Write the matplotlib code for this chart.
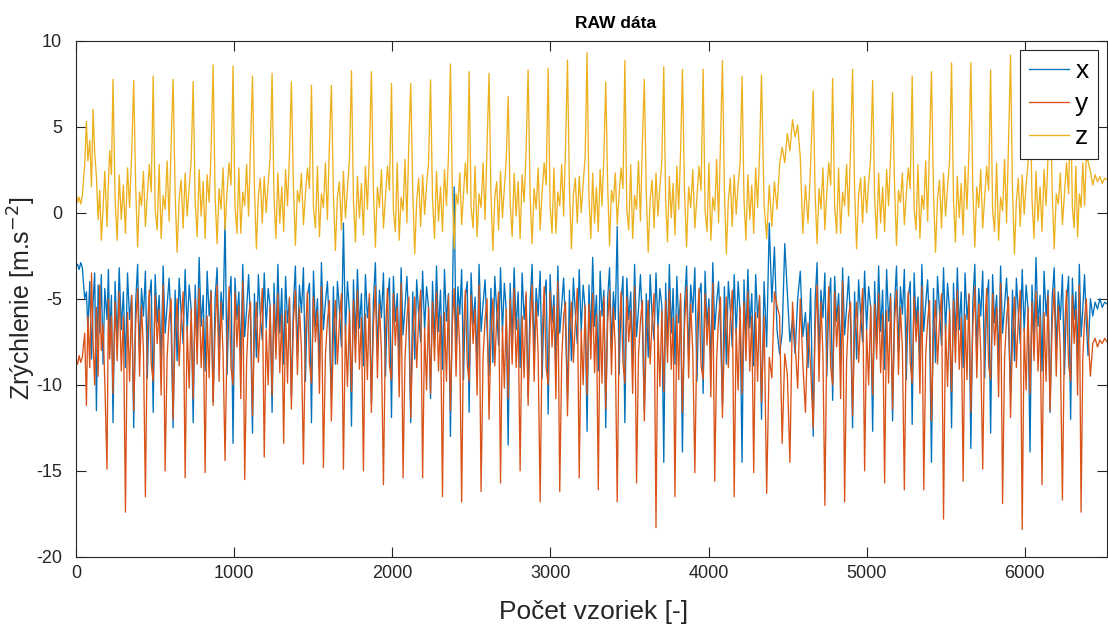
import matplotlib
matplotlib.use("Agg")
import matplotlib.pyplot as plt
import numpy as np

plt.rcParams['font.family'] = ['Liberation Sans', 'DejaVu Sans']
plt.rcParams['axes.unicode_minus'] = False

# sample index of each z peak (start of each cycle), last one = start of the quiet tail
peaks = [234, 365, 488, 614, 741, 867, 993, 1116, 1240, 1362, 1489, 1615, 1742, 1868,
         1995, 2117, 2242, 2368, 2486, 2612, 2733, 2859, 2986, 3108, 3232, 3350, 3471,
         3594, 3717, 3835, 3966, 4088, 4212, 4335, 4662, 4785, 4911, 5038, 5164, 5288,
         5410, 5537, 5659, 5784, 5910, 6033, 6160, 6290, 6400]

# lead-in before the first peak
lead_idx = [0, 10, 20, 30, 40, 55, 66, 75, 87, 98, 108, 118, 129, 140, 150, 160, 171, 182, 196, 205, 213, 224]
x_lead = [-3.1, -3.0, -3.3, -2.9, -3.2, -5.0, -4.6, -6.8, -4.0, -8.5, -5.2, -3.5, -11.5, -4.2, -7.0, -3.6, -8.8, -4.4, -6.2, -3.3, -7.4, -4.8]
y_lead = [-8.5, -8.8, -8.3, -8.7, -8.4, -7.0, -11.2, -6.0, -9.0, -3.5, -7.5, -10.0, -5.5, -9.5, -4.2, -8.0, -6.5, -9.8, -14.9, -5.0, -8.5, -6.0]
z_lead = [1.2, 0.6, 0.9, 0.5, 1.0, 2.8, 5.3, 3.0, 4.2, 1.5, 6.0, 3.5, 2.1, -0.4, 1.3, -1.6, 0.2, 2.4, -0.8, 1.8, 3.6, 2.2]

# quiet tail at the end of the recording
tail_idx = [6400, 6415, 6430, 6445, 6460, 6475, 6490, 6505, 6520]
x_tail = [-8.3, -5.0, -6.0, -5.2, -5.6, -5.0, -5.5, -5.2, -5.3]
y_tail = [-7.0, -9.5, -7.6, -7.3, -7.8, -7.4, -7.6, -7.3, -7.5]
z_tail = [3.0, 2.4, 1.6, 2.2, 1.8, 2.1, 1.7, 2.0, 1.9]

# values within each cycle (evenly spread between two peaks)
z_rows = [
    [7.75, 0.8, -1.6, 2.2, -0.4, 1.6, -1.2, 2.6, 0.3, 3.4],
    [7.67, 1.5, -2.0, 1.2, 0.4, 2.4, -0.8, 1.0, 2.8, 1.2],
    [7.94, 0.2, -1.0, 2.8, -1.5, 1.0, 0.2, 3.0, -0.5, 4.0],
    [7.75, 1.2, -2.3, 0.8, 1.9, -0.9, 2.3, -0.2, 1.5, 3.0],
    [7.62, 0.6, -1.4, 2.5, -0.2, 1.8, -1.5, 2.2, 0.6, 3.6],
    [8.58, 1.0, -1.8, 1.4, 0.2, 2.6, -1.0, 1.2, 2.9, 1.6],
    [8.52, 0.4, -1.2, 2.6, -1.2, 1.2, 0.4, 2.8, -0.2, 3.8],
    [7.94, 1.4, -2.1, 1.0, 2.0, -0.6, 2.1, 0.0, 1.7, 3.2],
    [8.10, 0.9, -1.5, 2.3, -0.6, 1.5, -1.1, 2.5, 0.4, 3.3],
    [7.60, 1.6, -1.9, 1.3, 0.6, 2.3, -0.7, 1.1, 2.6, 1.4],
    [7.40, 0.3, -0.9, 2.7, -1.4, 1.1, 0.3, 2.9, -0.4, 3.9],
    [7.40, 1.1, -2.2, 0.9, 1.8, -1.0, 2.4, -0.3, 1.4, 3.1],
    [8.25, 0.7, -1.7, 2.1, -0.3, 1.7, -1.3, 2.7, 0.2, 3.5],
    [8.19, 1.3, -2.0, 1.5, 0.3, 2.5, -0.9, 0.9, 2.7, 1.3],
    [7.51, 0.1, -1.1, 2.9, -1.6, 0.9, 0.1, 3.1, -0.6, 4.1],
    [7.51, 1.3, -2.4, 0.7, 2.0, -0.8, 2.2, -0.1, 1.6, 2.9],
    [7.71, 0.8, -1.5, 2.4, -0.5, 1.5, -1.1, 2.5, 0.4, 3.3],
    [8.64, 1.4, -2.1, 1.1, 0.5, 2.3, -0.7, 1.1, 2.9, 1.1],
    [8.19, 0.3, -0.9, 2.7, -1.4, 1.1, 0.3, 2.9, -0.4, 3.9],
    [8.10, 1.1, -2.2, 0.9, 1.8, -1.0, 2.4, -0.3, 1.4, 3.1],
    [6.74, 0.6, -1.4, 2.3, -0.2, 1.8, -1.5, 2.2, 0.6, 3.6],
    [8.29, 1.0, -1.8, 1.4, 0.2, 2.6, -1.0, 1.2, 2.9, 1.6],
    [8.39, 0.4, -1.2, 2.6, -1.2, 1.2, 0.4, 2.8, -0.2, 3.8],
    [8.87, 1.4, -2.1, 1.0, 2.0, -0.6, 2.1, 0.0, 1.7, 3.2],
    [9.29, 0.9, -1.5, 2.3, -0.6, 1.5, -1.1, 2.5, 0.4, 3.3],
    [7.60, 1.6, -1.9, 1.3, 0.6, 2.3, -0.7, 1.1, 2.6, 1.4],
    [8.83, 0.2, -1.0, 2.8, -1.5, 1.0, 0.2, 3.0, -0.5, 4.0],
    [7.75, 1.2, -2.3, 0.8, 1.9, -0.9, 2.3, -0.2, 1.5, 3.0],
    [8.48, 0.7, -1.7, 2.1, -0.3, 1.7, -1.3, 2.7, 0.2, 3.5],
    [8.33, 1.3, -2.0, 1.5, 0.3, 2.5, -0.9, 0.9, 2.7, 1.3],
    [8.33, 0.1, -1.1, 2.9, -1.6, 0.9, 0.1, 3.1, -0.6, 4.1],
    [8.83, 1.3, -2.4, 0.7, 2.0, -0.8, 2.2, -0.1, 1.6, 2.9],
    [7.90, 0.8, -1.6, 2.2, -0.4, 1.6, -1.2, 2.6, 0.3, 3.4],
    [8.00, 0.5, -1.5, 1.6, -0.8, 1.8, 0.2, 2.8, 3.8, 2.9, 4.6, 3.6, 5.4, 4.4, 5.1, 3.2, -1.2, 1.6, -0.6, 2.8],
    [7.08, 1.0, -1.8, 1.4, 0.2, 2.6, -1.0, 1.2, 2.9, 1.6],
    [7.80, 0.4, -1.2, 2.6, -1.2, 1.2, 0.4, 2.8, -0.2, 3.8],
    [8.33, 1.4, -2.1, 1.0, 2.0, -0.6, 2.1, 0.0, 1.7, 3.2],
    [7.67, 0.9, -1.5, 2.3, -0.6, 1.5, -1.1, 2.5, 0.4, 3.3],
    [6.97, 1.6, -1.9, 1.3, 0.6, 2.3, -0.7, 1.1, 2.6, 1.4],
    [7.94, 0.2, -1.0, 2.8, -1.5, 1.0, 0.2, 3.0, -0.5, 4.0],
    [8.19, 1.2, -2.3, 0.8, 1.9, -0.9, 2.3, -0.2, 1.5, 3.0],
    [8.71, 0.7, -1.7, 2.1, -0.3, 1.7, -1.3, 2.7, 0.2, 3.5],
    [8.71, 1.3, -2.0, 1.5, 0.3, 2.5, -0.9, 0.9, 2.7, 1.3],
    [8.29, 0.1, -1.1, 2.9, -1.6, 0.9, 0.1, 3.1, -0.6, 4.1],
    [9.16, 1.3, -2.4, 0.7, 2.0, -0.8, 2.2, -0.1, 1.6, 2.9],
    [7.60, 0.8, -1.5, 2.4, -0.5, 1.5, -1.1, 2.5, 0.4, 3.3],
    [7.20, 1.4, -2.1, 1.1, 0.5, 2.3, -0.7, 1.1, 2.9, 1.1],
    [6.50, 0.3, -0.9, 2.7, -1.4, 1.1, 0.3, 2.9, 0.4, 3.2],
]

x_rows = [
    [-12.2, -4.0, -7.5, -3.2, -6.8, -4.6, -9.0, -3.5, -6.2, -4.8],
    [-12.5, -5.2, -3.0, -8.2, -4.4, -6.0, -3.4, -9.6, -5.0, -3.9],
    [-11.6, -3.6, -6.4, -4.8, -8.8, -3.1, -7.0, -5.4, -3.8, -6.6],
    [-12.5, -4.5, -8.6, -3.8, -5.8, -7.6, -3.3, -6.9, -4.2, -5.6],
    [-12.2, -4.2, -7.3, -2.6, -6.6, -4.8, -9.2, -3.4, -6.0, -4.5],
    [-11.0, -5.0, -3.2, -8.0, -4.6, -6.2, -0.4, -9.4, -5.2, -3.7],
    [-13.4, -3.8, -6.2, -4.6, -8.6, -3.0, -7.2, -5.6, -3.6, -6.4],
    [-12.8, -4.7, -8.4, -3.6, -6.0, -7.4, -3.5, -6.7, -4.4, -5.4],
    [-11.6, -4.1, -7.7, -3.0, -7.0, -4.4, -8.8, -3.7, -6.4, -5.0],
    [-10.7, -5.4, -3.1, -8.4, -4.2, -5.8, -3.2, -9.8, -4.8, -4.1],
    [-12.2, -3.4, -6.6, -5.0, -9.0, -2.9, -6.8, -5.2, -4.0, -6.8],
    [-10.8, -4.3, -8.8, -4.0, -5.6, -7.8, -0.6, -7.1, -4.0, -5.8],
    [-12.4, -3.9, -7.4, -3.3, -6.7, -4.7, -8.9, -3.6, -6.1, -4.9],
    [-11.1, -5.1, -2.9, -8.3, -4.5, -6.1, -3.5, -9.5, -5.1, -3.8],
    [-11.9, -3.7, -6.3, -4.7, -8.7, -3.2, -7.1, -5.5, -3.7, -6.5],
    [-12.2, -4.6, -8.5, -3.9, -5.9, -7.5, -3.4, -6.8, -4.3, -5.5],
    [-10.8, -4.0, -7.6, -3.1, -6.9, -4.5, -9.1, -3.3, -6.3, -4.7],
    [-13.0, -5.3, 1.5, -8.1, -4.3, -5.9, -3.3, -9.7, -4.9, -4.0],
    [-11.6, -3.5, -6.5, -4.9, -8.9, -3.0, -6.9, -5.3, -3.9, -6.7],
    [-9.5, -4.4, -8.7, -3.7, -5.7, -7.7, -3.2, -7.0, -4.1, -5.7],
    [-13.5, -4.1, -7.4, -3.2, -6.8, -4.6, -9.0, -3.5, -6.2, -4.8],
    [-10.7, -5.2, -3.0, -8.2, -4.4, -6.0, -3.4, -9.6, -5.0, -3.9],
    [-11.7, -3.6, -6.4, -4.8, -8.8, -3.1, -7.0, -5.4, -3.8, -6.6],
    [-10.8, -4.5, -8.6, -3.8, -5.8, -7.6, -3.3, -6.9, -4.2, -5.6],
    [-12.7, -4.2, -7.3, -2.6, -6.6, -4.8, -9.2, -3.4, -6.0, -4.5],
    [-12.5, -5.0, -3.2, -8.0, -4.6, -6.2, -0.8, -9.4, -5.2, -3.7],
    [-12.2, -3.8, -6.2, -4.6, -8.6, -3.0, -7.2, -5.6, -3.6, -6.4],
    [-11.5, -4.7, -8.4, -3.6, -6.0, -7.4, -3.5, -6.7, -4.4, -5.4],
    [-14.5, -4.1, -7.7, -3.0, -7.0, -4.4, -8.8, -3.7, -6.4, -5.0],
    [-13.9, -5.4, -3.1, -8.4, -4.2, -5.8, -3.2, -9.8, -4.8, -4.1],
    [-10.5, -3.4, -6.6, -5.0, -9.0, -2.9, -6.8, -5.2, -4.0, -6.8],
    [-11.2, -4.3, -8.8, -4.0, -5.6, -7.8, -3.6, -7.1, -4.0, -5.8],
    [-14.5, -3.9, -7.4, -3.3, -6.7, -4.7, -8.9, -3.6, -6.1, -4.9],
    [-12.0, -4.0, -7.8, -0.6, -5.2, -2.0, -6.8, -8.2, -7.0, -1.8, -4.6, -7.5, -6.2, -8.2, -5.0, -3.4, -7.2, -5.8, -9.0, -4.4],
    [-13.0, -5.1, -2.9, -8.3, -4.5, -6.1, -3.5, -9.5, -5.1, -3.8],
    [-10.9, -3.7, -6.3, -4.7, -8.7, -3.2, -7.1, -5.5, -3.7, -6.5],
    [-12.5, -4.6, -8.5, -3.9, -5.9, -7.5, -3.4, -6.8, -4.3, -5.5],
    [-12.7, -4.0, -7.6, -3.1, -6.9, -4.5, -9.1, -3.3, -6.3, -4.7],
    [-12.1, -5.3, -3.1, -8.1, -4.3, -5.9, -3.3, -9.7, -4.9, -4.0],
    [-12.3, -3.5, -6.5, -4.9, -8.9, -3.0, -6.9, -5.3, -3.9, -6.7],
    [-14.5, -4.4, -8.7, -3.7, -5.7, -7.7, -3.2, -7.0, -4.1, -5.7],
    [-12.5, -4.1, -7.4, -3.2, -6.8, -4.6, -9.0, -3.5, -6.2, -4.8],
    [-13.7, -5.2, -3.0, -8.2, -4.4, -6.0, -3.4, -9.6, -5.0, -3.9],
    [-12.8, -3.6, -6.4, -4.8, -8.8, -3.1, -7.0, -5.4, -3.8, -6.6],
    [-10.4, -4.5, -8.6, -3.8, -5.8, -7.6, -3.3, -6.9, -4.2, -5.6],
    [-13.9, -4.2, -7.3, -2.6, -6.6, -4.8, -9.2, -3.4, -6.0, -4.5],
    [-11.6, -5.0, -3.2, -8.0, -4.6, -6.2, -3.6, -9.4, -5.2, -3.7],
    [-12.0, -3.8, -6.2, -4.6, -8.6, -3.0, -7.2, -5.6, -3.6, -6.4],
]

y_rows = [
    [-10.5, -5.2, -8.6, -4.6, -9.2, -6.0, -17.4, -5.8, -9.8, -4.8],
    [-11.5, -6.5, -4.4, -9.5, -5.4, -8.0, -16.5, -7.0, -4.5, -8.8],
    [-9.8, -4.8, -7.6, -5.6, -10.6, -4.2, -15.0, -8.4, -6.2, -5.0],
    [-12.0, -7.2, -5.0, -8.9, -6.2, -4.6, -15.4, -6.6, -10.2, -5.6],
    [-10.8, -5.0, -8.8, -4.4, -9.0, -6.2, -15.1, -6.0, -9.6, -4.6],
    [-11.2, -6.8, -4.2, -9.8, -5.2, -8.2, -14.4, -7.2, -4.3, -9.0],
    [-10.0, -4.6, -7.8, -5.4, -10.8, -4.0, -15.5, -8.6, -6.0, -5.2],
    [-11.8, -7.0, -5.2, -8.7, -6.4, -4.4, -14.2, -6.8, -10.0, -5.4],
    [-10.6, -5.3, -8.5, -4.7, -9.3, -5.9, -13.4, -5.7, -9.9, -4.9],
    [-11.4, -6.4, -4.5, -9.4, -5.5, -7.9, -14.6, -7.1, -4.6, -8.7],
    [-9.9, -4.9, -7.5, -5.7, -10.5, -4.3, -14.8, -8.3, -6.3, -5.1],
    [-12.1, -7.1, -5.1, -8.8, -6.3, -4.7, -14.9, -6.5, -10.1, -5.7],
    [-10.4, -5.1, -8.7, -4.5, -9.1, -6.1, -15.0, -5.9, -9.7, -4.7],
    [-11.6, -6.6, -4.3, -9.6, -5.3, -8.1, -15.8, -6.9, -4.4, -8.9],
    [-9.7, -4.7, -7.7, -5.5, -10.7, -4.1, -15.4, -8.5, -6.1, -4.9],
    [-11.9, -7.3, -4.9, -9.0, -6.1, -4.5, -15.4, -6.7, -10.3, -5.5],
    [-10.5, -5.2, -8.6, -4.6, -9.2, -6.0, -16.5, -5.8, -9.8, -4.8],
    [-11.5, -6.5, -4.4, -9.5, -5.4, -8.0, -16.8, -7.0, -4.5, -8.8],
    [-9.8, -4.8, -7.6, -5.6, -10.6, -4.2, -16.2, -8.4, -6.2, -5.0],
    [-12.0, -7.2, -5.0, -8.9, -6.2, -4.6, -15.7, -6.6, -10.2, -5.6],
    [-10.8, -5.0, -8.8, -4.4, -9.0, -6.2, -15.0, -6.0, -9.6, -4.6],
    [-11.2, -6.8, -4.2, -9.8, -5.2, -8.2, -16.8, -7.2, -4.3, -9.0],
    [-10.0, -4.6, -7.8, -5.4, -10.8, -4.0, -16.2, -8.6, -6.0, -5.2],
    [-11.8, -7.0, -5.2, -8.7, -6.4, -4.4, -15.4, -6.8, -10.0, -5.4],
    [-10.6, -5.3, -8.5, -4.7, -9.3, -5.9, -16.1, -5.7, -9.9, -4.9],
    [-11.4, -6.4, -4.5, -9.4, -5.5, -7.9, -16.8, -7.1, -4.6, -8.7],
    [-9.9, -4.9, -7.5, -5.7, -10.5, -4.3, -15.7, -8.3, -6.3, -5.1],
    [-12.1, -7.1, -5.1, -8.8, -6.3, -4.7, -18.3, -6.5, -10.1, -5.7],
    [-10.4, -5.1, -8.7, -4.5, -9.1, -6.1, -16.5, -5.9, -9.7, -4.7],
    [-11.6, -6.6, -4.3, -9.6, -5.3, -8.1, -15.1, -6.9, -4.4, -8.9],
    [-9.7, -4.7, -7.7, -5.5, -10.7, -4.1, -15.6, -8.5, -6.1, -4.9],
    [-11.9, -7.3, -4.9, -9.0, -6.1, -4.5, -16.5, -6.7, -10.3, -5.5],
    [-10.5, -5.2, -8.6, -4.6, -9.2, -6.0, -15.1, -5.8, -9.8, -4.8],
    [-11.0, -6.0, -16.3, -8.4, -9.6, -4.6, -5.4, -6.0, -13.4, -8.2, -9.4, -14.5, -5.2, -7.6, -10.2, -5.0, -8.8, -11.6, -6.4, -9.0],
    [-12.5, -6.8, -4.2, -9.8, -5.2, -8.2, -17.0, -7.2, -4.3, -9.0],
    [-10.0, -4.6, -7.8, -5.4, -10.8, -4.0, -16.8, -8.6, -6.0, -5.2],
    [-11.8, -7.0, -5.2, -8.7, -6.4, -4.4, -15.0, -6.8, -10.0, -5.4],
    [-10.6, -5.3, -8.5, -4.7, -9.3, -5.9, -15.7, -5.7, -9.9, -4.9],
    [-11.4, -6.4, -4.5, -9.4, -5.5, -7.9, -16.1, -7.1, -4.6, -8.7],
    [-9.9, -4.9, -7.5, -5.7, -10.5, -4.3, -16.1, -8.3, -6.3, -5.1],
    [-12.1, -7.1, -5.1, -8.8, -6.3, -4.7, -17.8, -6.5, -10.1, -5.7],
    [-10.4, -5.1, -8.7, -4.5, -9.1, -6.1, -15.6, -5.9, -9.7, -4.7],
    [-11.6, -6.6, -4.3, -9.6, -5.3, -8.1, -14.9, -6.9, -4.4, -8.9],
    [-9.7, -4.7, -7.7, -5.5, -10.7, -4.1, -16.9, -8.5, -6.1, -4.9],
    [-11.9, -7.3, -4.9, -9.0, -6.1, -4.5, -18.4, -6.7, -10.3, -5.5],
    [-10.5, -5.2, -8.6, -4.6, -9.2, -6.0, -15.8, -5.8, -9.8, -4.8],
    [-11.5, -6.5, -4.4, -9.5, -5.4, -8.0, -16.7, -7.0, -4.5, -8.8],
    [-9.8, -4.8, -7.6, -5.6, -10.6, -4.2, -17.4, -8.4, -6.2, -5.0],
]


def build(lead, rows, tail):
    idx = list(lead_idx)
    vals = list(lead)
    for k, row in enumerate(rows):
        pos = np.linspace(peaks[k], peaks[k + 1], len(row), endpoint=False)
        idx.extend(pos)
        vals.extend(row)
    idx.extend(tail_idx)
    vals.extend(tail)
    return np.array(idx), np.array(vals)


fig = plt.figure(figsize=(11.08, 6.32), dpi=100)
ax = fig.add_axes([0.0686, 0.1187, 0.9305, 0.8172])

colors = ['#0072BD', '#D95319', '#EDB120']
for (lead, rows, tail), c, name in zip([(x_lead, x_rows, x_tail), (y_lead, y_rows, y_tail),
                                        (z_lead, z_rows, z_tail)], colors, ['x', 'y', 'z']):
    sx, sy = build(lead, rows, tail)
    ax.plot(sx, sy, color=c, lw=0.95, label=name)

ax.set_xlim(0, 6520)
ax.set_ylim(-20, 10)
ax.set_xticks([0, 1000, 2000, 3000, 4000, 5000, 6000])
ax.set_yticks([-20, -15, -10, -5, 0, 5, 10])
ax.tick_params(direction='in', top=True, right=True, length=7, width=0.8,
               labelsize=13, colors='#262626', labelcolor='#262626')
ax.tick_params(axis='y', pad=10)
ax.tick_params(axis='x', pad=6)
for s in ax.spines.values():
    s.set_color('#262626')
    s.set_linewidth(0.8)

ax.set_title('RAW dáta', fontsize=12.5, fontweight='bold', color='black', x=0.523, pad=9)
ax.set_xlabel('Počet vzoriek [-]', fontsize=19, color='#262626')
ax.set_ylabel('Zrýchlenie [m.s$^{-2}$]', fontsize=18, color='#262626')
ax.xaxis.set_label_coords(0.502, -0.083)
ax.yaxis.set_label_coords(-0.037, 0.5)

leg = ax.legend(loc='upper right', fontsize=19, handlelength=1.5, handletextpad=0.25,
                borderpad=0.35, labelspacing=0.35, fancybox=False, framealpha=1,
                edgecolor='#262626', borderaxespad=0.35)
leg.get_frame().set_linewidth(0.8)

fig.savefig('out.png', dpi=100)
